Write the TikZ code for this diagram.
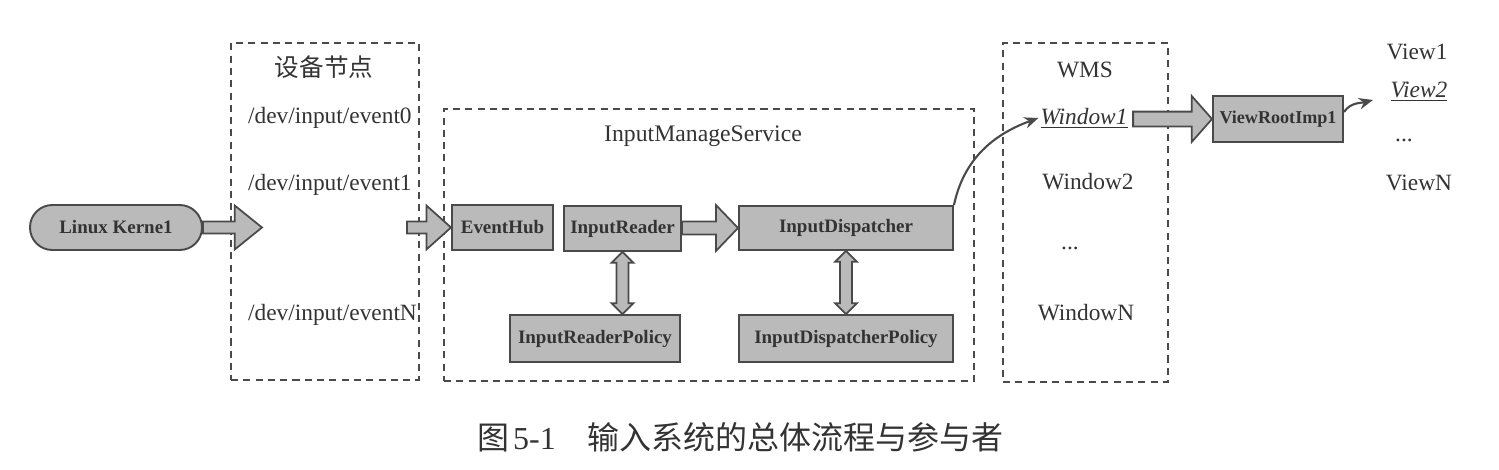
\documentclass[tikz,border=0pt]{standalone}
\usepackage{fontspec}
\setmainfont{Liberation Serif}
\newfontfamily\cjk{Noto Sans CJK SC}
\usetikzlibrary{calc,arrows.meta}
\definecolor{boxfill}{HTML}{BABABA}
\definecolor{edge}{HTML}{4A4A4A}
\definecolor{ink}{HTML}{333333}
% horizontal fat arrow: #1 start, #2 tip, #3 shaft half-height, #4 head half-height, #5 head length
\newcommand\myfatarrow[5]{\draw[fatarr] let \p1=#1, \p2=#2 in
  (\x1,{\y2+#3}) -- ({\x2-#5},{\y2+#3}) -- ({\x2-#5},{\y2+#4}) -- (\x2,\y2)
  -- ({\x2-#5},{\y2-#4}) -- ({\x2-#5},{\y2-#3}) -- (\x1,{\y2-#3}) -- cycle;}
% vertical double fat arrow: #1 top, #2 bottom, #3 shaft half-width, #4 head half-width, #5 head length
\newcommand\myvdarrow[5]{\draw[fatarr] let \p1=#1, \p2=#2 in
  (\x1,\y1) -- ({\x1+#4},{\y1-#5}) -- ({\x1+#3},{\y1-#5}) -- ({\x1+#3},{\y2+#5})
  -- ({\x1+#4},{\y2+#5}) -- (\x1,\y2) -- ({\x1-#4},{\y2+#5}) -- ({\x1-#3},{\y2+#5})
  -- ({\x1-#3},{\y1-#5}) -- ({\x1-#4},{\y1-#5}) -- cycle;}
\tikzset{
  box/.style={draw=edge, fill=boxfill, line width=1.1pt, inner sep=0pt,
    font=\fontsize{10.8}{12}\selectfont\bfseries, text=ink},
  sz/.style 2 args={minimum width=#1*0.02cm, minimum height=#2*0.02cm},
  group/.style={draw=edge, dash pattern=on 4pt off 3pt, line width=1pt, inner sep=0pt},
  lbl/.style={font=\fontsize{13.3}{15}\selectfont, text=ink, inner sep=1pt},
  fatarr/.style={draw=edge, fill=boxfill, line width=1pt, line join=miter},
  curvearr/.style={draw=edge, line width=1.2pt, -{Stealth[length=8pt,width=6.5pt]}},
}
\begin{document}
\begin{tikzpicture}[x=0.02cm, y=-0.02cm]
\useasboundingbox (0,0) rectangle (1499,470);

% group boxes
\node[group, sz={188}{337}] (dev) at (325,211.5) {};
\node[group, sz={530}{272}] (ims) at (709,245) {};
\node[group, sz={165}{339}] (wms) at (1085.5,212.5) {};

% device nodes
\node[lbl, font=\cjk\fontsize{14}{16}\selectfont] (devt) at (324,67) {设备节点};
\node[lbl, anchor=west] (ev0) at (246,118) {/dev/input/event0};
\node[lbl, anchor=west] (ev1) at (246,185) {/dev/input/event1};
\node[lbl, anchor=west] (evn) at (246,315) {/dev/input/eventN};

% kernel
\node[box, sz={172}{45}, rounded corners=12.7pt] (kern) at (116,227.5) {Linux Kerne1};
\coordinate (kt) at (262,227.5);
\coordinate (hs) at (407,227.5);

% input manager service
\node[lbl, font=\fontsize{13.5}{15}\selectfont] (imst) at (703,136) {InputManageService};
\node[box, sz={101}{45}] (hub) at (502.5,227.5) {EventHub};
\node[box, sz={117}{45}] (reader) at (622.5,228.5) {InputReader};
\node[box, sz={214}{44}] (disp) at (846,228) {InputDispatcher};
\node[box, sz={170}{47}] (rpol) at (595,338.5) {InputReaderPolicy};
\node[box, sz={214}{47}] (dpol) at (846,338.5) {InputDispatcherPolicy};

% WMS
\node[lbl] (wmst) at (1085,70) {WMS};
\node[lbl] (win1) at (1084,118) {\underline{\textit{Window1}}};
\node[lbl] (win2) at (1088,182) {Window2};
\node[lbl] (wdots) at (1070,248) {...};
\node[lbl] (winn) at (1086,313) {WindowN};

% views
\node[box, sz={130}{46}, font=\fontsize{10.3}{12}\selectfont\bfseries] (vrl) at (1278,119) {ViewRootImp1};
\node[lbl] (v1) at (1417,52) {View1};
\node[lbl] (v2) at (1419,92) {\underline{\textit{View2}}};
\node[lbl] (vdots) at (1404,140) {...};
\node[lbl] (vn) at (1419,183) {ViewN};
\coordinate (vt) at (1373,100);

% fat arrows
\myfatarrow{(kern.east)}{(kt)}{3.4pt}{12.5pt}{15.5pt}
\myfatarrow{(hs)}{(hub.west)}{3.4pt}{12.5pt}{14pt}
\myfatarrow{(reader.east)}{(disp.west)}{3.7pt}{13pt}{12.5pt}
\myfatarrow{([xshift=2pt]win1.east)}{(vrl.west)}{4.2pt}{13pt}{11.5pt}
\myvdarrow{(reader.south)}{(rpol.north -| reader.south)}{3.4pt}{6.2pt}{6.2pt}
\myvdarrow{(disp.south)}{(dpol.north)}{3.4pt}{6.2pt}{6.2pt}

% curved arrows
\draw[curvearr] (disp.north east) to[out=78, in=200] (win1.west);
\draw[curvearr] ([yshift=4pt]vrl.east) to[out=55, in=195] (vt);

% caption
\node[anchor=west, inner sep=0pt, text=ink, font=\fontsize{18.2}{20}\selectfont] (cap) at (477,437)
  {{\cjk 图}\hspace{0.12em}5-1\hspace{1em}{\cjk 输入系统的总体流程与参与者}};
\end{tikzpicture}
\end{document}
